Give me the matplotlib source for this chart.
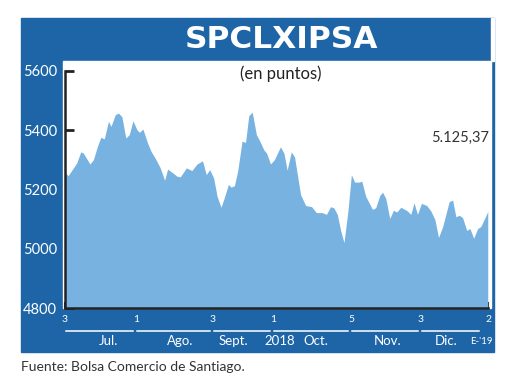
import matplotlib
matplotlib.use('Agg')
import matplotlib.pyplot as plt
from matplotlib.patches import Rectangle
from matplotlib import transforms

# dias desde el 3 de julio de 2018
dias = [0, 1.4, 5.1, 6.8, 7.9, 10.8, 12.3, 14.0, 15.5, 17.0, 18.8, 19.9, 21.7, 23.1,
        24.6, 26.3, 27.8, 29.4, 31.1, 32.2, 33.7, 35.7, 37.2, 39.0, 41.2, 43.1, 44.4,
        46.3, 48.4, 49.9, 52.5, 54.9, 57.1, 59.5, 61.1, 62.6, 64.3, 65.8, 67.5, 68.9,
        70.7, 71.9, 73.3, 74.7, 76.6, 78.1, 79.5, 81.0, 82.8, 84.3, 86.0, 87.2, 88.9,
        90.6, 93.2, 94.7, 96.1, 97.9, 99.3, 101.9, 104.1, 106.7, 108.7, 111.3, 113.1,
        114.9, 116.3, 117.8, 119.3, 120.7, 122.4, 123.9, 125.3, 127.2, 128.4, 130.1,
        133.0, 134.4, 136.2, 137.4, 138.8, 140.5, 142.1, 143.5, 145.3, 147.9, 149.6,
        151.0, 152.5, 154.2, 156.5, 158.3, 160.0, 161.6, 163.4, 166.2, 167.7, 169.1,
        170.6, 172.0, 173.8, 175.2, 176.8, 178.5, 179.9, 181.7, 182.9]
puntos = [5256, 5247, 5290, 5327, 5323, 5286, 5301, 5345, 5376, 5371, 5430, 5413, 5452, 5458,
          5446, 5374, 5385, 5432, 5402, 5393, 5404, 5357, 5329, 5306, 5273, 5231, 5269,
          5258, 5245, 5243, 5273, 5264, 5286, 5297, 5250, 5267, 5239, 5177, 5140, 5172,
          5217, 5208, 5213, 5262, 5363, 5359, 5449, 5461, 5385, 5363, 5334, 5323, 5286,
          5301, 5344, 5323, 5265, 5327, 5310, 5183, 5146, 5142, 5122, 5122, 5116,
          5142, 5138, 5116, 5060, 5021, 5127, 5250, 5225, 5225, 5228, 5177,
          5133, 5138, 5180, 5191, 5169, 5102, 5130, 5124, 5140, 5129, 5116,
          5155, 5116, 5153, 5146, 5127, 5099, 5038, 5075, 5159, 5164, 5108,
          5113, 5105, 5062, 5068, 5035, 5068, 5075, 5105, 5125.37]

tick_dias = [0, 31, 64, 90, 124, 154, 183]
tick_txt = ['3', '1', '3', '1', '5', '3', '2']
meses = ['Jul.', 'Ago.', 'Sept.', '2018', 'Oct.', 'Nov.', 'Dic.']
meses_pos = [18.8, 49.9, 72.9, 92.8, 108.4, 139.5, 164.8]
mes_final = "E-'19"
ultimo = '5.125,37'

azul = '#1d65a7'
celeste = '#78b2e0'

plt.rcParams['font.family'] = ['Lato', 'DejaVu Sans']

fig = plt.figure(figsize=(5.2, 3.9), dpi=100)
W, H = 520.0, 390.0

# marco azul y zona blanca
fig.patches.append(Rectangle((20.7 / W, 1 - 352 / H), (493.5 - 20.7) / W, (352 - 17.7) / H,
                             transform=fig.transFigure, color=azul, zorder=0))
fig.patches.append(Rectangle((63.3 / W, 1 - 308 / H), (491 - 63.3) / W, (308 - 60.7) / H,
                             transform=fig.transFigure, color='white', zorder=0))
fig.patches.append(Rectangle((491 / W, 1 - 60.7 / H), 2.5 / W, (60.7 - 17.7) / H,
                             transform=fig.transFigure, color='white', zorder=0))

ax = fig.add_axes([65 / W, 1 - 308 / H, (488 - 65) / W, (308 - 71) / H])
ax.set_zorder(2)
ax.patch.set_visible(False)
ax.fill_between(dias, puntos, 4800, color=celeste, lw=0, zorder=1)
ax.set_xlim(0, 183)
ax.set_ylim(4800, 5600)
ax.set_axisbelow(True)

ax.set_yticks([4800, 5000, 5200, 5400, 5600])
ax.set_xticks(tick_dias)
ax.set_xticklabels(tick_txt)
ax.tick_params(axis='y', direction='in', length=6.5, width=2, color='#222222',
               labelcolor='white', labelsize=10.5, pad=5.8)
ax.tick_params(axis='x', direction='in', length=4, width=1.5, color='#222222',
               labelcolor='white', labelsize=7.5, pad=5)
for s in ['top', 'right']:
    ax.spines[s].set_visible(False)
for s in ['left', 'bottom']:
    ax.spines[s].set_linewidth(1.8)
    ax.spines[s].set_color('#222222')

# lineas de meses y nombres
tr = transforms.blended_transform_factory(ax.transData, fig.transFigure)
for i in range(len(tick_dias) - 1):
    x0 = tick_dias[i] + 0.3
    x1 = tick_dias[i + 1] - 1.4
    if i == len(tick_dias) - 2:
        x1 = tick_dias[i + 1] - 4
    ax.plot([x0, x1], [1 - 330.7 / H] * 2, color='white', lw=1.1, transform=tr, clip_on=False)
for m, p in zip(meses, meses_pos):
    ax.text(p, 1 - 341 / H, m, color='white', fontsize=9.5, ha='center', va='center',
            transform=tr, clip_on=False)
fig.text(492.5 / W, 1 - 341 / H, mes_final, color='white', fontsize=7, ha='right', va='center')

ax.text(183.6, 5374, ultimo, ha='right', va='center', fontsize=10.5, color='#333333')

fig.text(281 / W, 1 - 40 / H, 'SPCLXIPSA', color='white', fontsize=22.5, fontweight='bold',
         family='DejaVu Sans', ha='center', va='center')
fig.text(281 / W, 1 - 73.5 / H, '(en puntos)', color='#222222', fontsize=12,
         ha='center', va='center')
fig.text(20.7 / W, 1 - 367 / H, 'Fuente: Bolsa Comercio de Santiago.', color='#333333',
         fontsize=10, ha='left', va='center')

fig.savefig('out.png', dpi=100)
